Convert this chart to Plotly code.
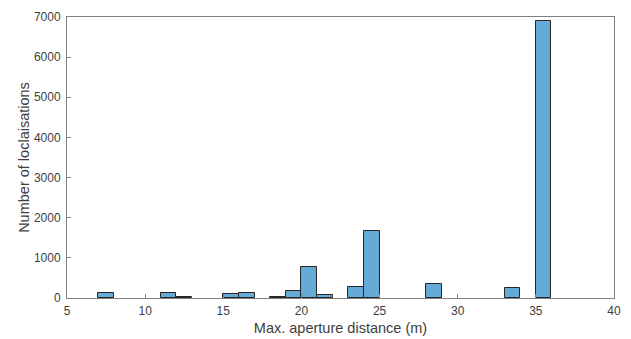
import plotly.graph_objects as go

bin_centers = [7.5, 11.5, 12.5, 15.5, 16.5, 18.5, 19.5, 20.5, 21.5, 23.5, 24.5, 28.5, 33.5, 35.5]
counts = [130, 125, 30, 110, 130, 25, 170, 780, 85, 280, 1660, 350, 250, 6890]
x_ticks = [5, 10, 15, 20, 25, 30, 35, 40]
y_ticks = [0, 1000, 2000, 3000, 4000, 5000, 6000, 7000]

FONT = "Liberation Sans, Arial, sans-serif"

fig = go.Figure(go.Bar(
    x=bin_centers, y=counts, width=1.0,
    marker=dict(color="#66AAD7", line=dict(color="#262626", width=1)),
))

axis_common = dict(
    showline=True, linecolor="#808080", linewidth=1, mirror=True,
    ticks="inside", ticklen=4, tickcolor="#808080",
    showgrid=False, zeroline=False, automargin=False,
    tickfont=dict(family=FONT, size=12, color="#404040"),
)

fig.update_layout(
    width=631, height=339,
    margin=dict(l=67, r=17, t=17, b=41),
    plot_bgcolor="white", paper_bgcolor="white",
    showlegend=False, bargap=0,
    xaxis=dict(range=[5, 40], tickvals=x_ticks, ticklabelstandoff=2,
               title=dict(text="Max. aperture distance (m)", standoff=5,
                          font=dict(family=FONT, size=14.5, color="#404040")),
               **axis_common),
    yaxis=dict(range=[0, 7000], tickvals=y_ticks, ticklabelstandoff=3,
               title=dict(text="Number of loclaisations", standoff=0,
                          font=dict(family=FONT, size=14.5, color="#404040")),
               **axis_common),
)

fig.write_html("out.html")
